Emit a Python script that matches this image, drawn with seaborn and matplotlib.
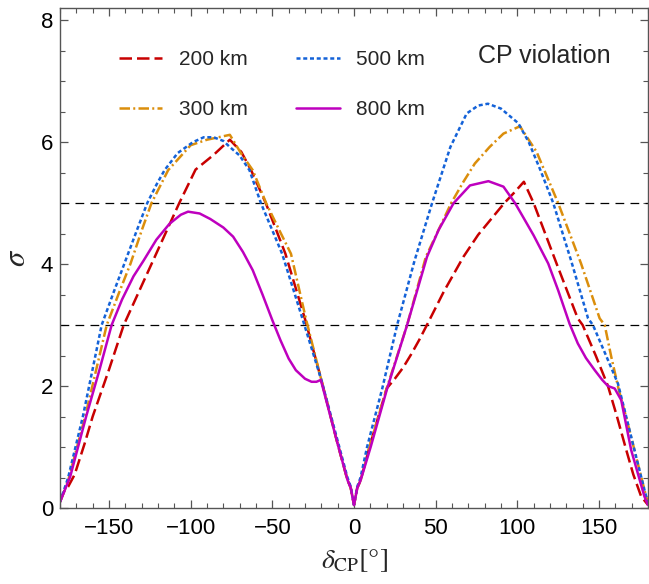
import numpy as np
import pandas as pd
import matplotlib
matplotlib.use('Agg')
import matplotlib.pyplot as plt
import seaborn as sns
from matplotlib.ticker import MultipleLocator

# sigma vs delta_CP
x200 = [-180, -177, -175, -171, -165, -160, -150, -141, -124, -107, -97, -86, -76, -69, -63, -54, -42, -30, -20, -10, -4, -2, 0,
        2, 4, 10, 20, 25, 30, 35, 40, 45, 55, 67, 76, 92, 98, 104, 110, 124, 137, 140, 148, 155.5, 161, 166.7, 171, 175.8, 180]
y200 = [0.1, 0.3, 0.35, 0.55, 1.05, 1.5, 2.27, 3.0, 4.0, 5.0, 5.55, 5.79, 6.04, 5.84, 5.54, 5.0, 4.17, 3.1, 2.1, 1.05, 0.46, 0.33, 0.05,
        0.33, 0.45, 1.05, 1.96, 2.12, 2.3, 2.52, 2.76, 3.02, 3.55, 4.12, 4.48, 5.0, 5.17, 5.35, 5.0, 4.01, 3.11, 3.0, 2.5, 2.0, 1.5, 0.95, 0.55, 0.19, 0.05]

x300 = [-180, -175, -164.6, -151.4, -144, -136.8, -130, -124, -113.8, -100, -90, -76, -69, -62, -53.8, -44.7, -38.6, -29.5, -20, -10, -4, -2, 0,
        2, 4, 10, 20, 32.5, 44, 59.5, 67, 74, 83, 91.5, 101.6, 111.8, 125, 139, 150.4, 153.5, 157.5, 162, 167, 171.7, 177.8, 180]
y300 = [0.1, 0.45, 1.5, 3.0, 3.52, 4.01, 4.55, 5.0, 5.54, 5.95, 6.04, 6.12, 5.81, 5.54, 5.0, 4.5, 4.17, 3.11, 2.1, 1.05, 0.46, 0.33, 0.05,
        0.33, 0.45, 1.05, 1.96, 3.0, 4.12, 5.0, 5.35, 5.65, 5.92, 6.14, 6.26, 5.84, 5.0, 4.01, 3.11, 3.0, 2.48, 1.95, 1.45, 0.95, 0.3, 0.08]

x500 = [-180, -175, -166, -160, -154.5, -147, -140, -133, -126.6, -121, -116, -108, -98.6, -92, -86, -80, -76, -70, -64, -57, -44, -31.5, -20, -10, -4, -2, 0,
        2, 4, 8, 17.3, 26.4, 37, 47.8, 59, 69, 76, 82, 90, 100.6, 107, 114, 122, 133, 143.3, 146.3, 154, 161.6, 166, 171.7, 177.8, 180]
y500 = [0.1, 0.5, 1.5, 2.28, 3.0, 3.55, 4.05, 4.55, 5.0, 5.3, 5.54, 5.82, 6.0, 6.08, 6.08, 6.02, 5.92, 5.78, 5.54, 5.0, 4.17, 3.1, 2.1, 1.1, 0.5, 0.35, 0.05,
        0.35, 0.5, 1.0, 1.96, 3.0, 4.05, 5.0, 5.92, 6.47, 6.6, 6.63, 6.55, 6.31, 6.0, 5.55, 5.0, 4.05, 3.11, 3.0, 2.52, 2.04, 1.57, 0.95, 0.3, 0.08]

x800 = [-180, -173.8, -164, -156, -148.4, -142, -135, -129, -121, -113, -106, -101.6, -94.5, -88, -80, -74, -68, -62, -56, -50, -45, -40, -35.6, -30, -26, -23, -20.3, -10, -4, -2, 0,
        2, 4, 10.2, 20.3, 32.5, 44.7, 51.8, 61, 71, 82.3, 91.5, 98.6, 104, 110, 118.9, 125, 132, 137, 142, 147.4, 152, 155.5, 159.6, 163.6, 169.7, 177.8, 180]
y800 = [0.1, 0.51, 1.5, 2.25, 3.0, 3.42, 3.8, 4.05, 4.4, 4.66, 4.81, 4.86, 4.83, 4.74, 4.6, 4.45, 4.2, 3.9, 3.5, 3.08, 2.75, 2.45, 2.26, 2.12, 2.07, 2.07, 2.1, 1.05, 0.46, 0.33, 0.05,
        0.33, 0.45, 1.0, 1.96, 3.0, 4.12, 4.56, 5.0, 5.29, 5.36, 5.27, 5.0, 4.75, 4.47, 4.01, 3.57, 3.02, 2.7, 2.46, 2.26, 2.1, 2.0, 1.96, 1.77, 0.95, 0.19, 0.05]

labels = ['200 km', '300 km', '500 km', '800 km']
colors = ['#C80000', '#DB8E0C', '#1462D8', '#BE00BE']
styles = [(0, (5, 2)), (0, (4.2, 1.3, 0.8, 1.3)), (0, (1.6, 1.1)), '-']
curves = [(x200, y200), (x300, y300), (x500, y500), (x800, y800)]

sns.set_style('ticks')
plt.rcParams['font.family'] = ['Liberation Sans', 'DejaVu Sans']
plt.rcParams['mathtext.fontset'] = 'stix'

fig = plt.figure(figsize=(6.49, 5.84), dpi=100)
ax = fig.add_axes([60/649, 76/584, 588/649, 500/584])

for (xs, ys), lab, c, ls in zip(curves, labels, colors, styles):
    sns.lineplot(x=xs, y=ys, ax=ax, color=c, linestyle=ls, linewidth=1.8,
                 label=lab, estimator=None, sort=False)

ax.axhline(3, color='k', lw=0.9, ls=(0, (7, 5)), zorder=1)
ax.axhline(5, color='k', lw=0.9, ls=(0, (7, 5)), zorder=1)

ax.set_xlim(-180, 180)
ax.set_ylim(0, 8.2)
ax.xaxis.set_major_locator(MultipleLocator(50))
ax.xaxis.set_minor_locator(MultipleLocator(10))
ax.yaxis.set_major_locator(MultipleLocator(2))
ax.yaxis.set_minor_locator(MultipleLocator(0.5))
ax.tick_params(which='both', direction='in', top=True, right=True, colors='#555555', labelcolor='black')
ax.tick_params(which='major', length=6, width=0.9, labelsize=16)
ax.tick_params(which='minor', length=3.5, width=0.8)
ax.tick_params(axis='x', pad=7)
ax.tick_params(axis='y', pad=5)
for sp in ax.spines.values():
    sp.set_color('#555555')
    sp.set_linewidth(1.0)

ax.set_xlabel(r'$\delta_{\mathrm{CP}}[°]$', fontsize=20, labelpad=6)
ax.set_ylabel(r'$\sigma$', fontsize=22, labelpad=6)

leg = ax.legend(ncol=2, loc='upper left', bbox_to_anchor=(0.082, 0.937), frameon=False,
                fontsize=15, handlelength=2.1, handletextpad=0.8, columnspacing=2.3,
                labelspacing=1.5, borderpad=0)

ax.text(0.711, 0.904, 'CP violation', transform=ax.transAxes, fontsize=18, va='center', ha='left')

plt.savefig('out.png', dpi=100)
